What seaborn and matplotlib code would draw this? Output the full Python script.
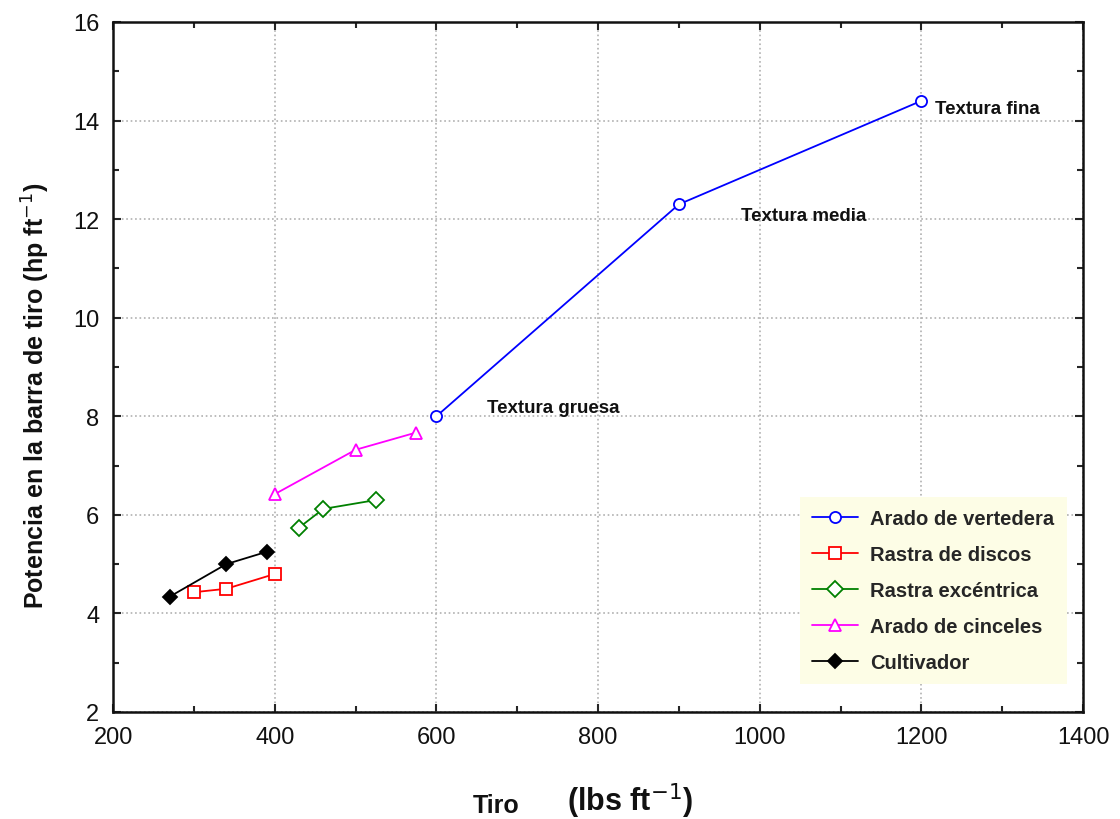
"""Potencia en la barra de tiro vs tiro por implemento."""
import matplotlib
matplotlib.use("Agg")
import matplotlib.pyplot as plt
import pandas as pd
import seaborn as sns
from matplotlib.ticker import MultipleLocator

# datos
vertedera_x = [600, 900, 1200]
vertedera_y = [8.0, 12.3, 14.4]
discos_x = [300, 340, 400]
discos_y = [4.43, 4.5, 4.8]
excentrica_x = [430, 460, 525]
excentrica_y = [5.74, 6.12, 6.3]
cinceles_x = [400, 500, 575]
cinceles_y = [6.42, 7.32, 7.67]
cultivador_x = [270, 340, 390]
cultivador_y = [4.34, 5.0, 5.25]

series = [
    ("Arado de vertedera", vertedera_x, vertedera_y, "#0000ff", "o", "none"),
    ("Rastra de discos", discos_x, discos_y, "#ff0000", "s", "none"),
    ("Rastra excéntrica", excentrica_x, excentrica_y, "#008000", "D", "none"),
    ("Arado de cinceles", cinceles_x, cinceles_y, "#ff00ff", "^", "none"),
    ("Cultivador", cultivador_x, cultivador_y, "#000000", "D", "#000000"),
]

textura_labels = ["Textura gruesa", "Textura media", "Textura fina"]
textura_pos = [(663, 8.17), (977, 12.08), (1217, 14.25)]


def main() -> None:
    sns.set_theme(style="ticks")
    plt.rcParams["font.family"] = ["Liberation Sans", "DejaVu Sans"]

    fig = plt.figure(figsize=(11.2, 8.2), dpi=100)
    ax = fig.add_axes([0.101, 0.1305, 0.866, 0.8415])

    for name, xs, ys, color, marker, fill in series:
        df = pd.DataFrame({"x": xs, "y": ys})
        sns.lineplot(
            data=df, x="x", y="y", ax=ax, color=color, marker=marker,
            markersize=8 if fill == "none" else 7,
            markerfacecolor=fill if fill != "none" else "white",
            markeredgecolor=color, markeredgewidth=1.3,
            linewidth=1.3, label=name,
        )

    for text, (tx, ty) in zip(textura_labels, textura_pos):
        ax.text(tx, ty, text, fontsize=13.5, fontweight="bold", ha="left",
                va="center", color="#111111")

    ax.set_xlim(200, 1400)
    ax.set_ylim(2, 16)
    ax.xaxis.set_major_locator(MultipleLocator(200))
    ax.xaxis.set_minor_locator(MultipleLocator(100))
    ax.yaxis.set_major_locator(MultipleLocator(2))
    ax.yaxis.set_minor_locator(MultipleLocator(1))
    ax.tick_params(which="both", direction="in", top=True, right=True, width=1.5)
    ax.tick_params(which="major", length=6, labelsize=17, pad=10,
                   labelcolor="#111111")
    ax.tick_params(which="minor", length=4)
    ax.grid(True, which="major", linestyle=":", color="#b0b0b0", linewidth=1.2)
    for sp in ax.spines.values():
        sp.set_linewidth(1.8)
        sp.set_color("#111111")

    # eje x: "Tiro" mas pequeño y la unidad aparte
    ax.set_xlabel("(lbs ft$^{-1}$)", fontsize=22, fontweight="bold",
                  color="#111111", va="center")
    ax.xaxis.set_label_coords(0.533, -0.128)
    ax.text(0.395, -0.135, "Tiro", transform=ax.transAxes, fontsize=18,
            fontweight="bold", ha="center", va="center", color="#111111")

    ax.set_ylabel("Potencia en la barra de tiro (hp ft$^{-1}$)", fontsize=18,
                  fontweight="bold", color="#111111", va="center")
    ax.yaxis.set_label_coords(-0.080, 0.46)

    leg = ax.legend(
        loc="lower right", bbox_to_anchor=(0.983, 0.04), frameon=True,
        facecolor="#fdfde6", edgecolor="#fdfde6", framealpha=1,
        prop={"weight": "bold", "size": 14.5}, handlelength=2.3,
        handletextpad=0.6, labelspacing=0.85, borderpad=0.6, fancybox=False,
        borderaxespad=0,
    )
    leg.get_frame().set_linewidth(0)

    fig.savefig("out.png", dpi=100)
    plt.close(fig)


if __name__ == "__main__":
    main()
